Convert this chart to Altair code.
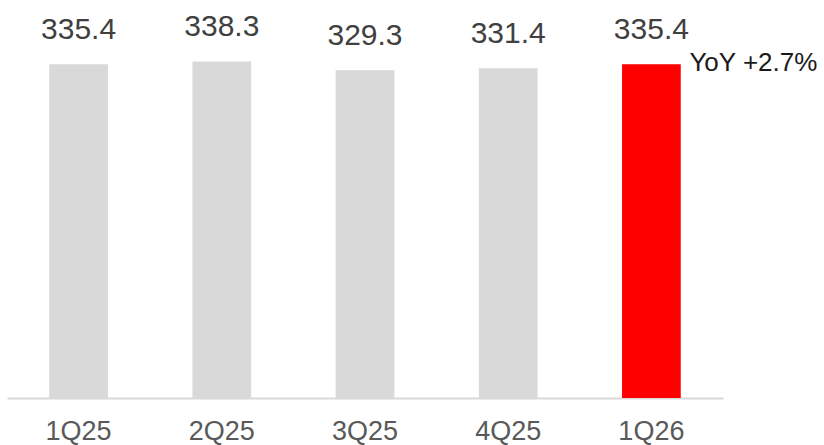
import altair as alt
import pandas as pd

# Quarterly values
quarters = ["1Q25", "2Q25", "3Q25", "4Q25", "1Q26"]
values = [335.4, 338.3, 329.3, 331.4, 335.4]
value_labels = ["335.4", "338.3", "329.3", "331.4", "335.4"]
bar_colors = ["#d9d9d9", "#d9d9d9", "#d9d9d9", "#d9d9d9", "#ff0000"]

# Year-over-year note attached to the latest quarter
yoy_quarter = "1Q26"
yoy_text = "YoY +2.7%"

df = pd.DataFrame({
    "quarter": quarters,
    "value": values,
    "label": value_labels,
    "color": bar_colors,
})
yoy_df = pd.DataFrame({
    "quarter": [yoy_quarter],
    "value": [values[quarters.index(yoy_quarter)]],
    "text": [yoy_text],
})

x_enc = alt.X(
    "quarter:N",
    sort=quarters,
    title=None,
    scale=alt.Scale(paddingInner=0.59, paddingOuter=0.295),
    axis=alt.Axis(
        labelAngle=0,
        labelFont="Liberation Sans",
        labelFontSize=27,
        labelColor="#595959",
        labelBaseline="alphabetic",
        labelPadding=41,
        ticks=False,
        domainColor="#d9d9d9",
        domainWidth=2,
        grid=False,
    ),
)
y_scale = alt.Scale(domain=[0, 400], nice=False, zero=True)
y_enc = alt.Y("value:Q", scale=y_scale, axis=None)

bars = alt.Chart(df).mark_bar().encode(
    x=x_enc,
    y=y_enc,
    color=alt.Color("color:N", scale=None, legend=None),
)

labels = alt.Chart(df).mark_text(
    font="Liberation Sans",
    fontSize=30,
    color="#404040",
    baseline="alphabetic",
    align="center",
    dy=-25,
).encode(
    x=alt.X("quarter:N", sort=quarters),
    y=alt.Y("value:Q", scale=y_scale),
    text="label:N",
)

yoy = alt.Chart(yoy_df).mark_text(
    font="Liberation Sans",
    fontSize=26,
    color="#1a1a1a",
    baseline="alphabetic",
    align="left",
    dx=38,
    dy=7,
).encode(
    x=alt.X("quarter:N", sort=quarters),
    y=alt.Y("value:Q", scale=y_scale),
    text="text:N",
)

chart = (
    alt.layer(bars, labels, yoy)
    .properties(
        width=716,
        height=398,
        autosize=alt.AutoSizeParams(type="none"),
        padding={"left": 7, "top": 0, "right": 101, "bottom": 47},
        background="white",
    )
    .configure_view(stroke=None)
)

chart.save("out.html", embed_options={"renderer": "svg", "actions": False})
